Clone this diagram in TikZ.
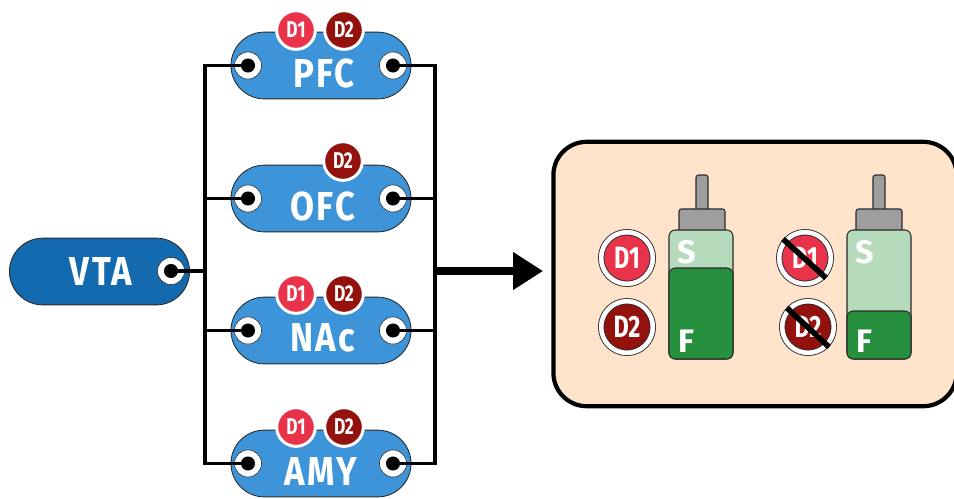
\documentclass[tikz,border=0pt]{standalone}
\usepackage{fontspec}
\setmainfont{Fira Sans}
\newfontfamily\regionfont{Fira Sans}[FakeStretch=0.86,LetterSpace=6]
\newfontfamily\badgefont{Fira Sans}[FakeStretch=0.76]
\usetikzlibrary{arrows.meta, shapes.misc, positioning}
\definecolor{pillblue}{HTML}{3D94D8}
\definecolor{vtablue}{HTML}{146AAE}
\definecolor{donered}{HTML}{E8334A}
\definecolor{twored}{HTML}{94120E}
\definecolor{panelbg}{HTML}{FFE3CB}
\definecolor{sidelight}{HTML}{B6DBBC}
\definecolor{sidedark}{HTML}{27903F}
\definecolor{capgrey}{HTML}{9E9E9E}
\definecolor{edgedark}{HTML}{2A2A2A}
\tikzset{
    pill/.style={rounded rectangle, draw=edgedark, line width=0.5pt, fill=pillblue, minimum width=102.5pt, minimum height=38pt, inner sep=0pt},
    regionlabel/.style={text=white, inner sep=0pt, font=\regionfont\bfseries\fontsize{23}{23}\selectfont},
    portring/.style={circle, fill=white, draw=edgedark, line width=0.3pt, minimum size=15.4pt, inner sep=0pt},
    portdot/.style={circle, fill=black, minimum size=8pt, inner sep=0pt},
    wire/.style={line width=2.1pt, line cap=rect, line join=miter},
    badge/.style={circle, fill=#1, draw=white, line width=1.7pt, minimum size=22pt, inner sep=0pt, text=white, font=\badgefont\bfseries\fontsize{13}{13}\selectfont},
    bigbadge/.style={circle, fill=#1, draw=edgedark, line width=0.5pt, double=white, double distance=2.6pt, minimum size=29.4pt, inner sep=0pt, text=white, font=\badgefont\bfseries\fontsize{17.5}{17.5}\selectfont},
    bottletext/.style={text=white, inner sep=0pt, font=\bfseries\fontsize{18.5}{18.5}\selectfont},
    bottleline/.style={draw=edgedark, line width=0.6pt, rounded corners=3.6pt},
    capline/.style={draw=edgedark, line width=0.6pt, rounded corners=1.4pt, fill=capgrey},
    strike/.style={line width=3.2pt}
}
\begin{document}
\begin{tikzpicture}[x=0.02cm,y=-0.02cm]
    \useasboundingbox (0,0) rectangle (954,498);

    % Regions on the right of VTA
    \foreach \name/\txt/\yc/\xt in {pfc/PFC/65.5/324, ofc/OFC/198.5/323, nac/NAc/330.5/323, amy/AMY/463.5/321}{
        \node[pill] (\name) at (321,\yc) {};
        \node[regionlabel] (\name text) at (\xt,\yc+7.5) {\txt};
        \node[portring] (\name L) at (248,\yc) {}; % left port
        \node[portring] (\name R) at (393,\yc) {}; % right port
        \node[portdot] (\name Ldot) at (\name L) {};
        \node[portdot] (\name Rdot) at (\name R) {};
    }

    % VTA
    \node[pill, fill=vtablue] (vta) at (99.5,271.5) {};
    \node[regionlabel] (vtatext) at (101,271.5) {VTA};
    \node[portring] (vtaP) at (171,271) {};
    \node[portdot] (vtaPdot) at (vtaP) {};

    % Receptors on the regions
    \node[badge=donered] (pfcone) at (296,30) {D1};
    \node[badge=twored] (pfctwo) at (344,30) {D2};
    \node[badge=twored] (ofctwo) at (343,161) {D2};
    \node[badge=donered] (nacone) at (296,294) {D1};
    \node[badge=twored] (nactwo) at (344,294) {D2};
    \node[badge=donered] (amyone) at (296,427) {D1};
    \node[badge=twored] (amytwo) at (344,427) {D2};

    % Wires
    \coordinate (busLtop) at (205,65.5);
    \coordinate (busLbot) at (205,463.5);
    \coordinate (busRtop) at (435,65.5);
    \coordinate (busRbot) at (435,463.5);
    \draw[wire] (pfcL.center) -- (busLtop) -- (busLbot) -- (amyL.center);
    \draw[wire] (pfcR.center) -- (busRtop) -- (busRbot) -- (amyR.center);
    \draw[wire] (ofcL.center) -- (ofcL -| busLtop);
    \draw[wire] (nacL.center) -- (nacL -| busLtop);
    \draw[wire] (ofcR.center) -- (ofcR -| busRtop);
    \draw[wire] (nacR.center) -- (nacR -| busRtop);
    \draw[wire] (vtaP.center) -- (vtaP -| busLtop);

    % Panel and arrow
    \node[draw=black, line width=2.4pt, fill=panelbg, rounded corners=19pt, minimum width=229.5pt, minimum height=150.5pt, inner sep=0pt] (panel) at (755,274) {};
    \coordinate (arrowstart) at (435,271);
    \coordinate (arrowend) at (543,271);
    \draw[-{Triangle[length=17pt,width=20.5pt]}, line width=4pt] (arrowstart) -- (arrowend);

    % Left bottle
    \path[capline] (696,175) rectangle (708,212);
    \path[capline] (679,209) rectangle (725,232);
    \fill[sidelight, bottleline] (669,230) rectangle (733,359);
    \fill[sidedark, bottleline] (669,268) rectangle (733,359);
    \node[bottletext] (leftS) at (687,252) {S};
    \node[bottletext] (leftF) at (686,341) {F};
    \node[bigbadge=donered] (leftone) at (627,258) {D1};
    \node[bigbadge=twored] (lefttwo) at (627,327) {D2};

    % Right bottle
    \path[capline] (873,175) rectangle (885,212);
    \path[capline] (856,209) rectangle (902,232);
    \fill[sidelight, bottleline] (847,230) rectangle (911,359);
    \fill[sidedark, bottleline] (847,311) rectangle (911,359);
    \node[bottletext] (rightS) at (865,252) {S};
    \node[bottletext] (rightF) at (864,341) {F};
    \node[bigbadge=donered] (rightone) at (805,258) {D1};
    \node[bigbadge=twored] (righttwo) at (808,327) {D2};
    \draw[strike] (783,239) -- (826,278); % blocked D1
    \draw[strike] (787,308) -- (829,347); % blocked D2

\end{tikzpicture}
\end{document}
